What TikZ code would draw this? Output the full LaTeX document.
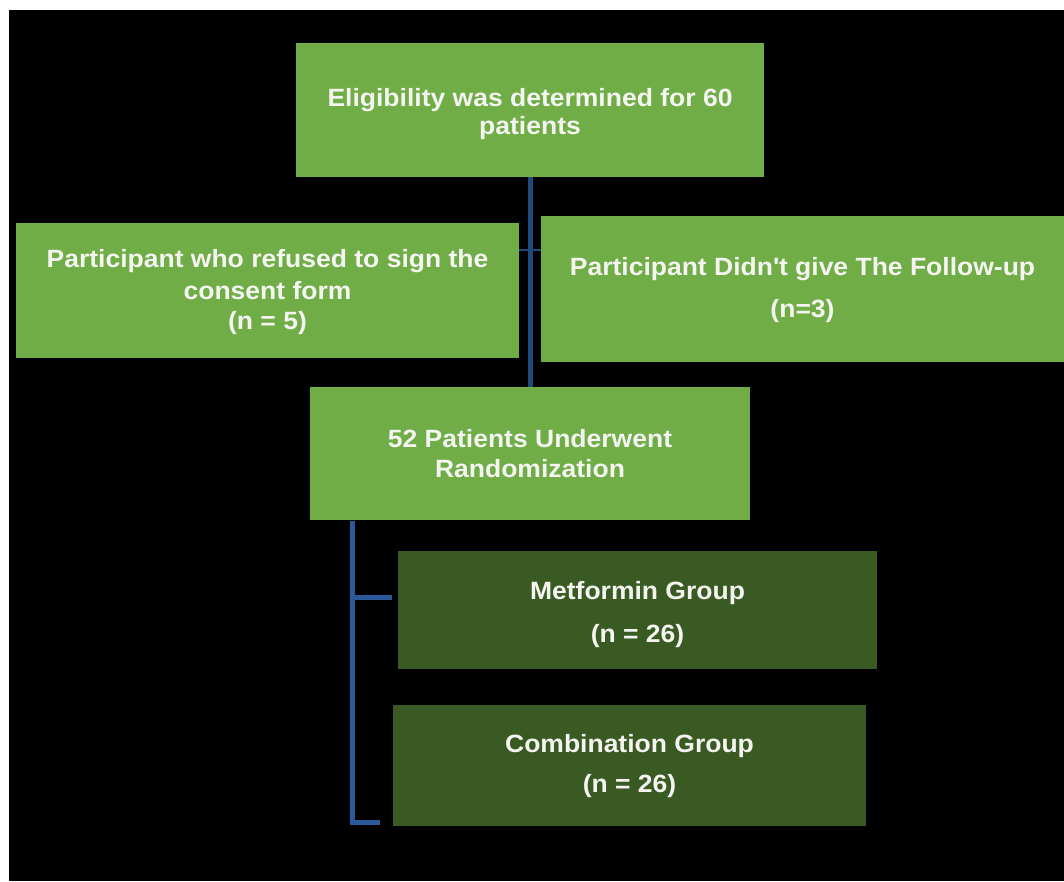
\documentclass[tikz,border=0pt]{standalone}
\usepackage{fontspec}
\setmainfont[FakeStretch=1.06]{Liberation Sans}
\usepackage{xcolor}
\definecolor{colorStep}{HTML}{70AD47}
\definecolor{colorGroup}{HTML}{3A5A24}
\definecolor{colorLink}{HTML}{2B5A9C}
\definecolor{colorLinkDark}{HTML}{1F4A7E}
\definecolor{colorLabel}{HTML}{F4F4F0}
\usetikzlibrary{positioning}
\tikzset{stepbox/.style={fill=colorStep, text=colorLabel, font=\fontsize{25}{31}\selectfont\bfseries, align=center, inner sep=0pt},
groupbox/.style={stepbox, fill=colorGroup}}

\begin{document}
\begin{tikzpicture}[x=1pt, y=-1pt, link/.style={draw=colorLink, line width=5pt}, tick/.style={draw=colorLinkDark, line width=2pt}]
\useasboundingbox (0,0) rectangle (1064,881);
\fill[white] (0,0) rectangle (1064,881);
\fill[black] (9,10) rectangle (1064,881);
\node[stepbox, minimum width=468pt, minimum height=134pt] (elig) at (530,110) {\rule{0pt}{27pt}Eligibility was determined for 60\\[-3pt]patients};
\node[stepbox, minimum width=503pt, minimum height=135pt] (refuse) at (267.5,290.5) {\rule{0pt}{22pt}Participant who refused to sign the\\[1pt]consent form\\[-1pt](n = 5)};
\node[stepbox, minimum width=523pt, minimum height=146pt] (follow) at (802.5,289) {\rule{0pt}{21pt}Participant Didn\textquotesingle t give The Follow-up\\[11pt](n=3)};
\node[stepbox, minimum width=440pt, minimum height=133pt, below=210pt of elig] (rand) {52 Patients Underwent\\[-1pt]Randomization};
\node[groupbox, minimum width=479pt, minimum height=118pt] (met) at (637.5,610) {\rule{0pt}{28pt}Metformin Group\\[12pt](n = 26)};
\node[groupbox, minimum width=473pt, minimum height=121pt] (comb) at (629.5,765.5) {\rule{0pt}{20pt}Combination Group\\[9pt](n = 26)};
\coordinate (split) at ([xshift=43pt]rand.south west);
\draw[link, draw=colorLinkDark] (elig.south) -- (rand.north);
\draw[tick] ([yshift=-27pt]refuse.north east) -- ([yshift=-27pt]refuse.north east -| follow.west);
\draw[link, shorten >=6pt] (split) |- ([yshift=13pt]met.west);
\draw[link, shorten >=13pt] (split) |- ([yshift=4pt]comb.south west);
\end{tikzpicture}
\end{document}
